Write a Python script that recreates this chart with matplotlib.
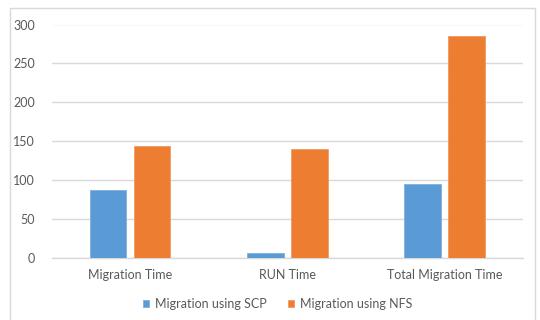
import matplotlib
matplotlib.use("Agg")
import matplotlib.pyplot as plt
import numpy as np
from matplotlib.patches import Rectangle

categories = ["Migration Time", "RUN Time", "Total Migration Time"]
scp = [88, 7, 95]
nfs = [144, 140, 285]
series_names = ["Migration using SCP", "Migration using NFS"]
yticks = [0, 50, 100, 150, 200, 250, 300]

plt.rcParams['font.family'] = ['Lato', 'DejaVu Sans']
txt = '#595959'
grid = '#D9D9D9'

fig = plt.figure(figsize=(5.4, 3.2), dpi=100)
ax = fig.add_axes([51.7/540, 1-258.3/320, (523-51.7)/540, (258.3-24.5)/320])

x = np.arange(len(categories))
w = 0.232
off = 0.140
ax.bar(x - off, scp, w, color='#5B9BD5', edgecolor='#7EB0DE', linewidth=0.6, label=series_names[0], zorder=3)
ax.bar(x + off, nfs, w, color='#ED7D31', edgecolor='#F19A63', linewidth=0.6, label=series_names[1], zorder=3)

ax.set_xlim(-0.5, 2.5)
ax.set_ylim(0, 300)
ax.set_yticks(yticks)
ax.set_xticks(x)
ax.set_xticklabels(categories)
ax.grid(axis='y', color=grid, linewidth=1, zorder=0)
ax.tick_params(axis='both', length=0, colors=txt, labelsize=9)
ax.tick_params(axis='x', pad=8)
ax.tick_params(axis='y', pad=12)
for s in ['top', 'right', 'left']:
    ax.spines[s].set_visible(False)
ax.spines['bottom'].set_color(grid)
ax.spines['bottom'].set_linewidth(1)

leg = fig.legend(loc='center', bbox_to_anchor=(0.514, 1-304/320), ncol=2, frameon=False,
                 fontsize=9, handlelength=0.5, handleheight=0.5, handletextpad=0.45,
                 columnspacing=1.7, labelcolor=txt)

fig.patches.append(Rectangle((10/540, -0.1), (535-10)/540, 1.1 - 8/320,
                             transform=fig.transFigure, fill=False,
                             edgecolor=grid, linewidth=1))

fig.savefig('out.png', dpi=100)
